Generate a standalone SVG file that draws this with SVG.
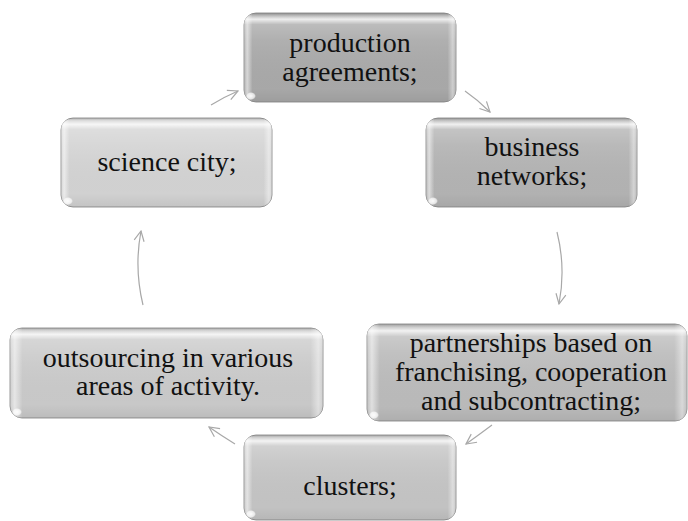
<svg xmlns="http://www.w3.org/2000/svg" width="688" height="521" viewBox="0 0 688 521">
  <style>
    .edge { stroke: #8c8c8c; stroke-width: 0.9; }
    .link { fill: none; stroke: #a8a8a8; stroke-width: 1.2; }
  </style>
  <defs>
    <!-- vertical bevel: bright band under the top edge, darker toward the bottom -->
    <linearGradient id="bevelV" x1="0" y1="0" x2="0" y2="1">
      <stop offset="0" stop-color="#000" stop-opacity="0.12"/>
      <stop offset="0.03" stop-color="#fff" stop-opacity="0.2"/>
      <stop offset="0.07" stop-color="#fff" stop-opacity="0.8"/>
      <stop offset="0.13" stop-color="#fff" stop-opacity="0.2"/>
      <stop offset="0.3" stop-color="#fff" stop-opacity="0.06"/>
      <stop offset="0.85" stop-color="#000" stop-opacity="0.02"/>
      <stop offset="1" stop-color="#000" stop-opacity="0.08"/>
    </linearGradient>
    <!-- side bevel: light strips along left and right edges -->
    <linearGradient id="bevelH" x1="0" y1="0" x2="1" y2="0">
      <stop offset="0" stop-color="#fff" stop-opacity="0.1"/>
      <stop offset="0.015" stop-color="#fff" stop-opacity="0.55"/>
      <stop offset="0.04" stop-color="#fff" stop-opacity="0"/>
      <stop offset="0.96" stop-color="#fff" stop-opacity="0"/>
      <stop offset="0.985" stop-color="#fff" stop-opacity="0.45"/>
      <stop offset="1" stop-color="#fff" stop-opacity="0.1"/>
    </linearGradient>
    <radialGradient id="gloss" cx="0.5" cy="0.5" r="0.5">
      <stop offset="0" stop-color="#fff" stop-opacity="0.95"/>
      <stop offset="0.7" stop-color="#fff" stop-opacity="0.7"/>
      <stop offset="1" stop-color="#fff" stop-opacity="0"/>
    </radialGradient>
    <marker id="chev" viewBox="0 0 12 12" refX="11" refY="6" markerWidth="12" markerHeight="12" markerUnits="userSpaceOnUse" orient="auto">
      <path d="M1,1 L11,6 L1,11" fill="none" stroke="#a8a8a8" stroke-width="1.2"/>
    </marker>
  </defs>

  <g id="connectors">
    <path class="link" d="M211,105 Q224,97 238,91" marker-end="url(#chev)"/>
    <path class="link" d="M465,91 Q478,100 490,112" marker-end="url(#chev)"/>
    <path class="link" d="M557,232 Q566,268 559,304" marker-end="url(#chev)"/>
    <path class="link" d="M492,425 Q480,434 466,444" marker-end="url(#chev)"/>
    <path class="link" d="M235,444 Q222,436 209,427" marker-end="url(#chev)"/>
    <path class="link" d="M143,305 Q134,268 141,231" marker-end="url(#chev)"/>
  </g>

  <g font-family="Liberation Serif, DejaVu Serif, serif" font-size="28" fill="#111" text-anchor="middle">
  <g id="production">
    <rect x="244" y="13" width="212" height="89" rx="12" fill="#ababab" class="edge"/>
    <rect x="244" y="13" width="212" height="89" rx="12" fill="url(#bevelV)"/>
    <rect x="244" y="13" width="212" height="89" rx="12" fill="url(#bevelH)"/>
    <ellipse cx="251" cy="96" rx="5" ry="4" fill="url(#gloss)"/>
    <text x="350" y="52">production</text>
    <text x="350" y="81">agreements;</text>
  </g>

  <g id="business">
    <rect x="426" y="118" width="211" height="89" rx="12" fill="#b5b5b5" class="edge"/>
    <rect x="426" y="118" width="211" height="89" rx="12" fill="url(#bevelV)"/>
    <rect x="426" y="118" width="211" height="89" rx="12" fill="url(#bevelH)"/>
    <ellipse cx="433" cy="201" rx="5" ry="4" fill="url(#gloss)"/>
    <text x="532" y="156">business</text>
    <text x="532" y="185">networks;</text>
  </g>

  <g id="partnerships">
    <rect x="367" y="324" width="320" height="97" rx="12" fill="#bdbdbd" class="edge"/>
    <rect x="367" y="324" width="320" height="97" rx="12" fill="url(#bevelV)"/>
    <rect x="367" y="324" width="320" height="97" rx="12" fill="url(#bevelH)"/>
    <ellipse cx="374" cy="415" rx="5" ry="4" fill="url(#gloss)"/>
    <text x="531" y="352">partnerships based on</text>
    <text x="531" y="381">franchising, cooperation</text>
    <text x="531" y="410">and subcontracting;</text>
  </g>

  <g id="clusters">
    <rect x="244" y="435" width="212" height="85" rx="12" fill="#c6c6c6" class="edge"/>
    <rect x="244" y="435" width="212" height="85" rx="12" fill="url(#bevelV)"/>
    <rect x="244" y="435" width="212" height="85" rx="12" fill="url(#bevelH)"/>
    <ellipse cx="251" cy="514" rx="5" ry="4" fill="url(#gloss)"/>
    <text x="350" y="495">clusters;</text>
  </g>

  <g id="outsourcing">
    <rect x="10" y="328" width="313" height="90" rx="12" fill="#cccccc" class="edge"/>
    <rect x="10" y="328" width="313" height="90" rx="12" fill="url(#bevelV)"/>
    <rect x="10" y="328" width="313" height="90" rx="12" fill="url(#bevelH)"/>
    <ellipse cx="17" cy="412" rx="5" ry="4" fill="url(#gloss)"/>
    <text x="168" y="367">outsourcing in various</text>
    <text x="168" y="395">areas of activity.</text>
  </g>

  <g id="science">
    <rect x="61" y="118" width="211" height="89" rx="12" fill="#d5d5d5" class="edge"/>
    <rect x="61" y="118" width="211" height="89" rx="12" fill="url(#bevelV)"/>
    <rect x="61" y="118" width="211" height="89" rx="12" fill="url(#bevelH)"/>
    <ellipse cx="68" cy="201" rx="5" ry="4" fill="url(#gloss)"/>
    <text x="167" y="171">science city;</text>
  </g>
  </g>
</svg>
